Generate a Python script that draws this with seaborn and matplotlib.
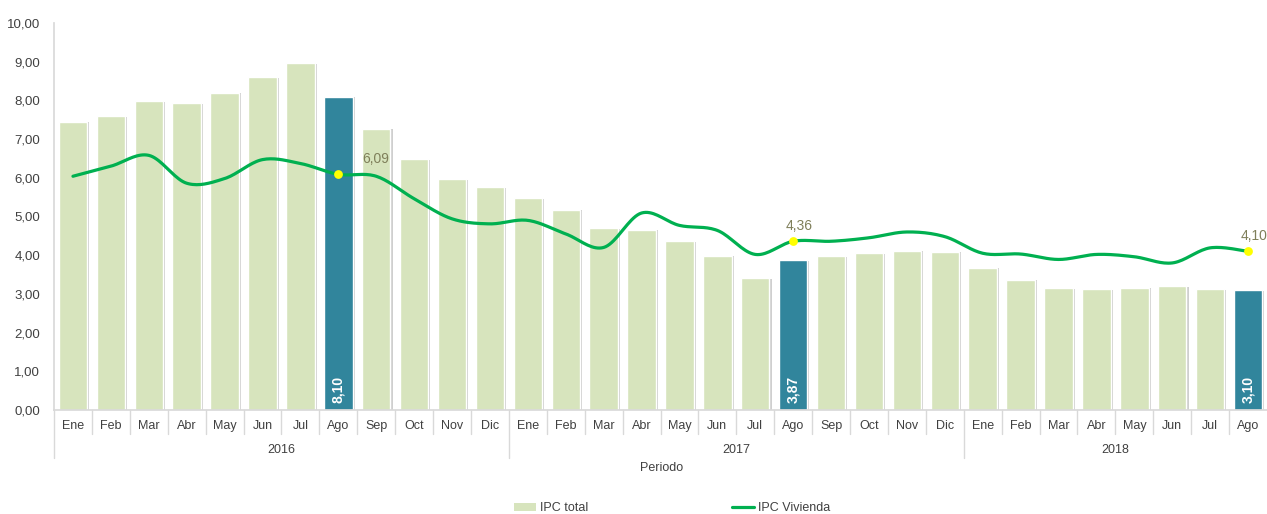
import numpy as np
import pandas as pd
import seaborn as sns
import matplotlib
matplotlib.use("Agg")
import matplotlib.pyplot as plt
import matplotlib.patheffects as pe
from matplotlib.lines import Line2D
from matplotlib.patches import Patch

# data
months = ["Ene", "Feb", "Mar", "Abr", "May", "Jun", "Jul", "Ago", "Sep", "Oct", "Nov", "Dic",
          "Ene", "Feb", "Mar", "Abr", "May", "Jun", "Jul", "Ago", "Sep", "Oct", "Nov", "Dic",
          "Ene", "Feb", "Mar", "Abr", "May", "Jun", "Jul", "Ago"]
years = ["2016", "2017", "2018"]
year_lengths = [12, 12, 8]
ipc_total = [7.45, 7.59, 7.98, 7.93, 8.20, 8.60, 8.97, 8.10, 7.27, 6.48, 5.96, 5.75,
             5.47, 5.18, 4.69, 4.66, 4.37, 3.99, 3.40, 3.87, 3.97, 4.05, 4.12, 4.09,
             3.68, 3.37, 3.14, 3.13, 3.16, 3.20, 3.12, 3.10]
ipc_vivienda = [6.04, 6.30, 6.58, 5.86, 5.98, 6.47, 6.37, 6.09, 6.04, 5.46, 4.94, 4.81,
                4.90, 4.55, 4.20, 5.09, 4.77, 4.64, 4.02, 4.36, 4.36, 4.45, 4.60, 4.48,
                4.05, 4.03, 3.89, 4.02, 3.96, 3.80, 4.19, 4.10]
highlight = [7, 19, 31]  # Agosto de cada año

LIGHT = "#d7e4bd"
DARK = "#31859c"
LINE = "#00b050"
TXT = "#404040"


def fmt(v):
    return f"{v:.2f}".replace(".", ",")


def smooth(y, n=20):
    # curva suavizada tipo Excel (Catmull-Rom en forma Bezier)
    p = np.column_stack([np.arange(len(y)), y]).astype(float)
    pts = []
    for i in range(len(p) - 1):
        p0 = p[i - 1] if i > 0 else p[i]
        p3 = p[i + 2] if i + 2 < len(p) else p[i + 1]
        b0, b3 = p[i], p[i + 1]
        b1 = b0 + (b3 - p0) / 6
        b2 = b3 - (p3 - b0) / 6
        t = np.linspace(0, 1, n)[:, None]
        seg = (1 - t) ** 3 * b0 + 3 * (1 - t) ** 2 * t * b1 + 3 * (1 - t) * t ** 2 * b2 + t ** 3 * b3
        pts.append(seg if i == 0 else seg[1:])
    pts = np.vstack(pts)
    return pts[:, 0], pts[:, 1]


sns.set_theme(style="white")
plt.rcParams["font.family"] = ["Liberation Sans", "DejaVu Sans"]

df = pd.DataFrame({"pos": range(len(months)), "total": ipc_total})
colors = [DARK if i in highlight else LIGHT for i in range(len(months))]

fig = plt.figure(figsize=(12.67, 5.14), dpi=100)
ax = fig.add_axes([54 / 1267, 1 - 410 / 514, 1 - 54 / 1267, 387 / 514])

sns.barplot(data=df, x="pos", y="total", hue="pos", palette=colors, legend=False,
            width=0.75, saturation=1, ax=ax)
for bar in ax.patches:
    bar.set_path_effects([pe.SimplePatchShadow(offset=(1.5, -0.5), shadow_rgbFace="#b0b0b0", alpha=0.6),
                          pe.Normal()])

xs, ys = smooth(ipc_vivienda)
sns.lineplot(x=xs, y=ys, color=LINE, linewidth=2.3, ax=ax, sort=False, zorder=4)

# etiquetas de Agosto
for k, i in enumerate(highlight):
    ax.text(i, 0.17, fmt(ipc_total[i]), rotation=90, ha="center", va="bottom",
            color="white", fontsize=10, fontweight="bold", zorder=5)
    ax.scatter([i], [ipc_vivienda[i]], s=40, color="#ffff00", zorder=6, linewidths=0)
    dx = 27 if k == 0 else 4
    ax.annotate(fmt(ipc_vivienda[i]), (i, ipc_vivienda[i]), xytext=(dx, 11),
                textcoords="offset points", ha="center", va="center",
                color="#7f7f5a", fontsize=10, zorder=6)

ax.set_xlim(-0.5, len(months) - 0.5)
ax.set_ylim(0, 10)
ax.set_yticks(np.arange(0, 11, 1))
ax.set_yticklabels([fmt(v) for v in np.arange(0, 11, 1)], color=TXT, fontsize=9.5)
ax.tick_params(axis="y", length=0, pad=10)
ax.set_xticks([])
ax.set_xlabel("")
ax.set_ylabel("")
for s in ["top", "right"]:
    ax.spines[s].set_visible(False)
ax.spines["left"].set_color("#d9d9d9")
ax.spines["bottom"].set_color("#d9d9d9")

# eje de categorias en dos niveles
tr = ax.get_xaxis_transform()
month_h = 24 / 387
year_h = 48 / 387
bounds = np.cumsum([0] + year_lengths) - 0.5
for i in range(len(months)):
    ax.text(i, -16 / 387, months[i], transform=tr, ha="center", va="center",
            fontsize=9, color=TXT)
    if i > 0 and (i - 0.5) not in bounds:
        ax.plot([i - 0.5, i - 0.5], [0, -month_h], transform=tr, color="#d9d9d9",
                lw=1, clip_on=False)
for b in bounds[:-1]:
    ax.plot([b, b], [0, -year_h], transform=tr, color="#d9d9d9", lw=1, clip_on=False)
for y, a, b in zip(years, bounds[:-1], bounds[1:]):
    ax.text((a + b) / 2, -40 / 387, y, transform=tr, ha="center", va="center",
            fontsize=9, color=TXT)

fig.text(662 / 1267, 1 - 468 / 514, "Periodo", ha="center", va="center", fontsize=9, color=TXT)

handles = [Patch(facecolor=LIGHT, edgecolor="none"),
           Line2D([0], [0], color=LINE, lw=2.3)]
fig.legend(handles, ["IPC total", "IPC Vivienda"], ncol=2, loc="center",
           bbox_to_anchor=(672 / 1267, 1 - 508 / 514), frameon=False, fontsize=9,
           handlelength=1.8, handleheight=0.6, handletextpad=0.3, columnspacing=11.5,
           labelcolor=TXT)

fig.savefig("out.png", dpi=100)
